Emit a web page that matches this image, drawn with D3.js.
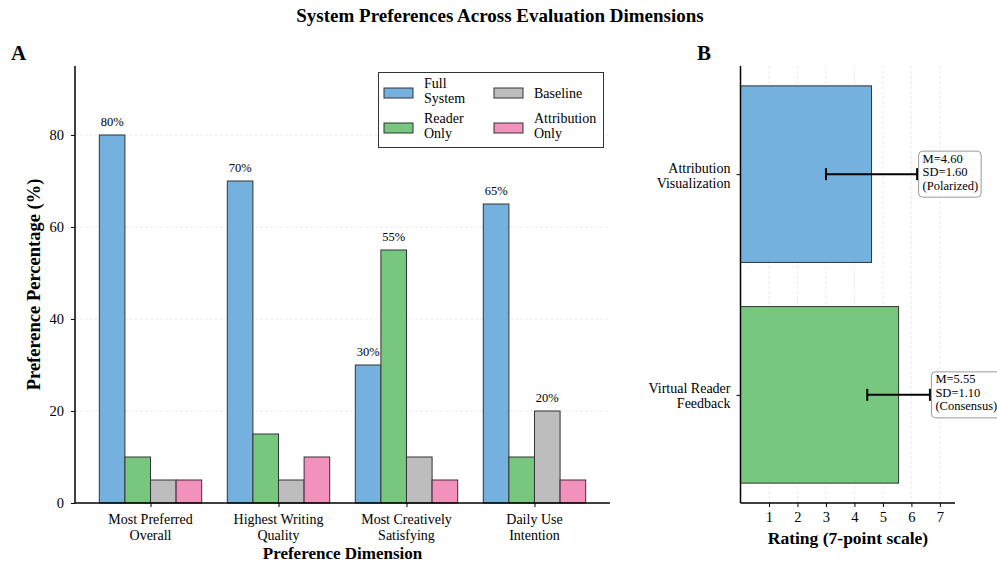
<!DOCTYPE html>
<html>
<head>
<meta charset="utf-8">
<script src="https://cdn.jsdelivr.net/npm/d3@7"></script>
<style>
  body { margin: 0; background: #fff; }
  svg { display: block; font-family: "Liberation Serif", "Times New Roman", serif; }
</style>
</head>
<body>
<svg id="chart" width="997" height="567"></svg>
<script>
// Panel A: preference shares per dimension
const dimensions = [["Most Preferred", "Overall"], ["Highest Writing", "Quality"], ["Most Creatively", "Satisfying"], ["Daily Use", "Intention"]];
const systems = ["Full System", "Reader Only", "Baseline", "Attribution Only"];
const legendLabels = [["Full", "System"], ["Reader", "Only"], ["Baseline"], ["Attribution", "Only"]];
const fullSystem = [80, 70, 30, 65];
const readerOnly = [10, 15, 55, 10];
const baseline = [5, 5, 10, 20];
const attributionOnly = [5, 10, 5, 5];
const yTicksA = [0, 20, 40, 60, 80];

// Panel B: feature ratings (7-point scale)
const features = [["Virtual Reader", "Feedback"], ["Attribution", "Visualization"]];
const featureMeans = [5.55, 4.60];
const featureSDs = [1.10, 1.60];
const featureNotes = ["(Consensus)", "(Polarized)"];
const xTicksB = [1, 2, 3, 4, 5, 6, 7];

const colors = ["#75b1df", "#78c77f", "#bdbdbd", "#f291bb"];
const seriesValues = [fullSystem, readerOnly, baseline, attributionOnly];

const svg = d3.select("#chart");

// Title
svg.append("text").attr("x", 500).attr("y", 22).attr("text-anchor", "middle")
  .attr("font-size", 19).attr("font-weight", "bold")
  .text("System Preferences Across Evaluation Dimensions");

// ---------- Panel A ----------
const A = { left: 75, right: 610, top: 66, bottom: 503 };
const barW = 0.2;
const xA = d3.scaleLinear().domain([-0.59, 3.59]).range([A.left, A.right]);
const yA = d3.scaleLinear().domain([0, 95]).range([A.bottom, A.top]);
const gA = svg.append("g");

// gridlines
gA.selectAll("line.grid").data(yTicksA.filter(d => d > 0)).enter().append("line")
  .attr("x1", A.left).attr("x2", A.right)
  .attr("y1", d => yA(d)).attr("y2", d => yA(d))
  .attr("stroke", "#e6e6e6").attr("stroke-width", 0.8).attr("stroke-dasharray", "3,2");

// bars
seriesValues.forEach((vals, s) => {
  const off = (s - 1.5) * barW;
  gA.selectAll(null).data(vals).enter().append("rect")
    .attr("x", (d, i) => xA(i + off - barW / 2))
    .attr("width", xA(barW) - xA(0))
    .attr("y", d => yA(d))
    .attr("height", d => yA(0) - yA(d))
    .attr("fill", colors[s]).attr("stroke", "#333").attr("stroke-width", 1);
  gA.selectAll(null).data(vals.map((v, i) => ({ v, i })).filter(d => d.v >= 20)).enter().append("text")
    .attr("x", d => xA(d.i + off))
    .attr("y", d => yA(d.v + 2))
    .attr("text-anchor", "middle").attr("font-size", 12.5)
    .text(d => d.v + "%");
});

// axes
const axA_y = d3.axisLeft(yA).tickValues(yTicksA).tickSize(4).tickPadding(7);
const gyA = gA.append("g").attr("transform", `translate(${A.left},0)`).call(axA_y);
const axA_x = d3.axisBottom(xA).tickValues([0, 1, 2, 3]).tickSize(4).tickFormat("");
const gxA = gA.append("g").attr("transform", `translate(0,${A.bottom})`).call(axA_x);
[gyA, gxA].forEach(g => {
  g.select(".domain").attr("stroke", "#000").attr("stroke-width", 1.5);
  g.selectAll(".tick line").attr("stroke", "#000").attr("stroke-width", 1);
  g.selectAll("text").attr("font-size", 14.5).attr("font-family", "Liberation Serif").attr("fill", "#000");
});
gyA.select(".domain").attr("d", `M0,${A.bottom}V${A.top}`);
gxA.select(".domain").attr("d", `M${A.left},0H${A.right}`);

// category labels
dimensions.forEach((lines, i) => {
  const t = gA.append("text").attr("x", xA(i)).attr("y", A.bottom + 21)
    .attr("text-anchor", "middle").attr("font-size", 14);
  lines.forEach((l, k) => t.append("tspan").attr("x", xA(i)).attr("dy", k ? 15.5 : 0).text(l));
});

gA.append("text").attr("x", (A.left + A.right) / 2).attr("y", 559)
  .attr("text-anchor", "middle").attr("font-size", 17).attr("font-weight", "bold")
  .text("Preference Dimension");
gA.append("text").attr("transform", `translate(40,${(A.top + A.bottom) / 2}) rotate(-90)`)
  .attr("text-anchor", "middle").attr("font-size", 18.5).attr("font-weight", "bold")
  .text("Preference Percentage (%)");
svg.append("text").attr("x", 11).attr("y", 60).attr("font-size", 21).attr("font-weight", "bold").text("A");

// legend
const lg = gA.append("g");
lg.append("rect").attr("x", 378.5).attr("y", 72.5).attr("width", 225).attr("height", 75)
  .attr("fill", "#fff").attr("stroke", "#333").attr("stroke-width", 1);
const legendPos = [
  { px: 384, py: 88, tx: 424 },
  { px: 384, py: 123, tx: 424 },
  { px: 494, py: 88, tx: 534 },
  { px: 494, py: 123, tx: 534 }
];
systems.forEach((name, s) => {
  const p = legendPos[s];
  lg.append("rect").attr("x", p.px).attr("y", p.py).attr("width", 29).attr("height", 10)
    .attr("fill", colors[s]).attr("stroke", "#333").attr("stroke-width", 1);
  const lines = legendLabels[s];
  const cy = p.py + 5;
  const t = lg.append("text").attr("font-size", 14).attr("y", lines.length > 1 ? cy - 5.5 : cy + 4.5);
  lines.forEach((l, k) => t.append("tspan").attr("x", p.tx).attr("dy", k ? 15 : 0).text(l));
});

// ---------- Panel B ----------
const B = { left: 740.5, right: 955, top: 66, bottom: 503 };
const xB = d3.scaleLinear().domain([0, 7.53]).range([B.left, B.right]);
const yB = d3.scaleLinear().domain([-0.49, 1.49]).range([B.bottom, B.top]);
const gB = svg.append("g");

gB.selectAll("line.grid").data(xTicksB).enter().append("line")
  .attr("x1", d => xB(d)).attr("x2", d => xB(d))
  .attr("y1", B.top).attr("y2", B.bottom)
  .attr("stroke", "#e6e6e6").attr("stroke-width", 0.8).attr("stroke-dasharray", "3,2");

const bh = 0.8;
featureMeans.forEach((m, i) => {
  gB.append("rect").attr("x", xB(0)).attr("width", xB(m) - xB(0))
    .attr("y", yB(i + bh / 2)).attr("height", yB(0) - yB(bh))
    .attr("fill", i === 0 ? colors[1] : colors[0]).attr("stroke", "#333").attr("stroke-width", 1);
});

// error bars
featureMeans.forEach((m, i) => {
  const sd = featureSDs[i], cy = yB(i);
  gB.append("line").attr("x1", xB(m - sd)).attr("x2", xB(m + sd)).attr("y1", cy).attr("y2", cy)
    .attr("stroke", "#000").attr("stroke-width", 2);
  [m - sd, m + sd].forEach(v => gB.append("line").attr("x1", xB(v)).attr("x2", xB(v))
    .attr("y1", cy - 6).attr("y2", cy + 6).attr("stroke", "#000").attr("stroke-width", 2));
});

// annotations
featureMeans.forEach((m, i) => {
  const sd = featureSDs[i], cy = yB(i);
  const bx = xB(m + sd) + 1.5;
  const lines = ["M=" + m.toFixed(2), "SD=" + sd.toFixed(2), featureNotes[i]];
  const ag = gB.append("g");
  const t = ag.append("text").attr("font-size", 12.5).attr("y", cy - 11.5);
  lines.forEach((l, k) => t.append("tspan").attr("x", bx + 4).attr("dy", k ? 13.5 : 0).text(l));
  const bb = t.node().getBBox();
  ag.insert("rect", "text").attr("x", bx).attr("y", cy - 23).attr("width", bb.width + 7).attr("height", 46)
    .attr("rx", 4).attr("fill", "#fff").attr("stroke", "#999").attr("stroke-width", 1);
});

const axB_x = d3.axisBottom(xB).tickValues(xTicksB).tickSize(4).tickPadding(5);
const gxB = gB.append("g").attr("transform", `translate(0,${B.bottom})`).call(axB_x);
const axB_y = d3.axisLeft(yB).tickValues([0, 1]).tickSize(4).tickFormat("");
const gyB = gB.append("g").attr("transform", `translate(${B.left},0)`).call(axB_y);
[gxB, gyB].forEach(g => {
  g.select(".domain").attr("stroke", "#000").attr("stroke-width", 1.5);
  g.selectAll(".tick line").attr("stroke", "#000").attr("stroke-width", 1);
  g.selectAll("text").attr("font-size", 14.5).attr("font-family", "Liberation Serif").attr("fill", "#000");
});
gxB.select(".domain").attr("d", `M${B.left},0H${B.right}`);
gyB.select(".domain").attr("d", `M0,${B.bottom}V${B.top}`);

features.forEach((lines, i) => {
  const t = gB.append("text").attr("y", yB(i) - 1.5).attr("text-anchor", "end").attr("font-size", 14);
  lines.forEach((l, k) => t.append("tspan").attr("x", B.left - 10).attr("dy", k ? 15 : 0).text(l));
});

gB.append("text").attr("x", 848).attr("y", 544).attr("text-anchor", "middle")
  .attr("font-size", 17.5).attr("font-weight", "bold").text("Rating (7-point scale)");
svg.append("text").attr("x", 697).attr("y", 60).attr("font-size", 21).attr("font-weight", "bold").text("B");
</script>
</body>
</html>
